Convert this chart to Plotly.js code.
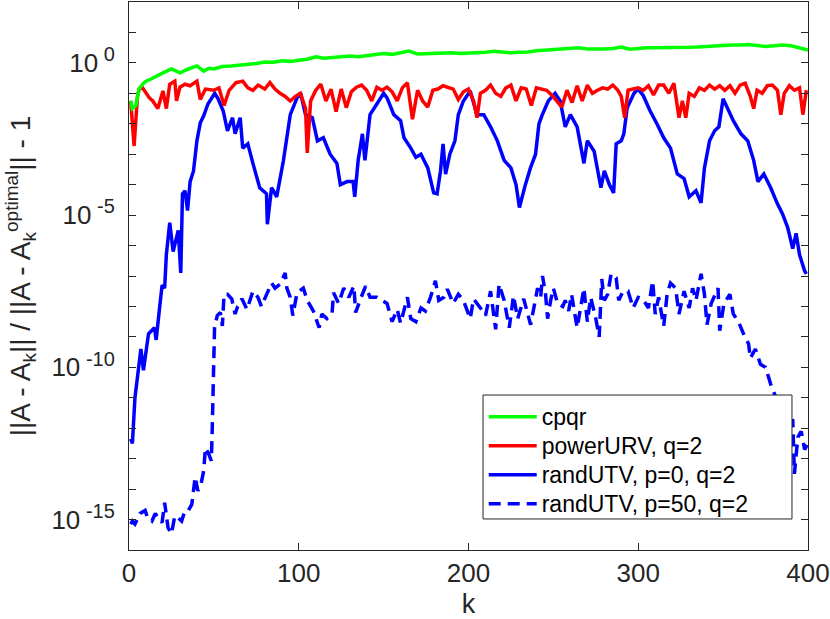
<!DOCTYPE html>
<html>
<head>
<meta charset="utf-8">
<script src="https://cdn.plot.ly/plotly-3.0.1.min.js"></script>
<style>
  html, body { margin: 0; padding: 0; background: #fff; }
  #chart { width: 830px; height: 619px; }
</style>
</head>
<body>
<div id="chart"></div>
<script>
// ---- Data (values are log10 of the plotted quantity) ----
const kCpqr = [1,2,4,6,8,10,13,16,20,25,28,30,35,40,44,47,50,55,60,65,70,75,80,85,90,95,100,105,110,115,120,125,130,135,140,145,150,155,160,165,170,175,180,185,190,195,200,205,210,215,220,225,230,235,240,245,250,255,260,265,270,275,280,285,290,295,300,305,310,315,320,325,330,335,340,345,350,355,360,365,370,375,380,385,390,395,400];
const logCpqr = [-1.25,-1.5,-1.4,-0.85,-0.7,-0.6,-0.53,-0.43,-0.33,-0.2,-0.27,-0.33,-0.2,-0.1,-0.27,-0.18,-0.2,-0.12,-0.1,-0.08,-0.04,-0.02,0.03,0.02,0.07,0.05,0.09,0.12,0.2,0.15,0.18,0.2,0.23,0.2,0.23,0.27,0.31,0.28,0.33,0.39,0.29,0.3,0.31,0.3,0.33,0.31,0.32,0.33,0.35,0.38,0.35,0.33,0.35,0.36,0.4,0.42,0.43,0.45,0.47,0.5,0.46,0.45,0.46,0.47,0.52,0.45,0.48,0.5,0.5,0.5,0.49,0.5,0.51,0.52,0.54,0.56,0.57,0.59,0.59,0.6,0.57,0.54,0.56,0.59,0.56,0.5,0.42];

const kPowerURV = [1,3,5,6,8,12,14,17,20,22,24,27,28,30,33,36,40,42,45,50,53,56,59,63,67,70,73,76,80,83,86,89,92,95,98,101,104,105,107,110,113,116,119,122,125,128,131,134,137,140,143,146,149,152,155,158,161,164,167,170,173,176,179,182,185,188,191,194,197,200,203,205,207,210,213,216,219,222,225,228,231,234,237,240,243,246,249,252,255,258,261,264,267,270,273,276,279,282,285,288,290,292,294,297,300,303,306,309,312,315,318,321,324,326,328,330,333,336,339,342,345,348,351,354,357,360,363,366,368,370,373,376,379,382,384,386,389,392,395,397,399];
const logPowerURV = [-1.25,-2.73,-1.1,-0.86,-0.82,-1.15,-1.25,-1.5,-0.92,-1.5,-0.7,-0.6,-1.25,-0.8,-0.7,-0.75,-0.6,-1.2,-0.86,-0.9,-0.82,-1.4,-0.9,-0.65,-0.6,-0.82,-0.9,-0.73,-0.86,-0.65,-0.86,-1.0,-1.1,-1.25,-1.1,-1.0,-1.5,-2.96,-1.25,-0.9,-0.7,-1.25,-0.86,-1.6,-0.86,-1.47,-0.95,-0.8,-0.73,-0.9,-1.25,-0.8,-0.9,-0.8,-0.95,-1.25,-0.82,-0.65,-1.85,-0.9,-1.25,-1.45,-0.9,-0.86,-0.75,-0.8,-0.86,-1.2,-0.95,-0.86,-1.25,-1.8,-1.0,-0.9,-0.73,-1.0,-1.1,-0.82,-0.73,-1.25,-0.82,-0.86,-1.4,-0.82,-0.86,-0.9,-1.05,-1.25,-1.45,-0.9,-1.3,-0.75,-1.25,-0.73,-1.0,-0.9,-0.82,-0.86,-0.73,-0.9,-1.1,-1.8,-0.9,-0.86,-0.82,-0.9,-0.75,-1.05,-0.73,-0.73,-1.0,-0.67,-1.8,-1.25,-1.8,-1.0,-1.1,-0.82,-0.9,-0.73,-0.86,-0.75,-0.9,-0.75,-1.0,-0.73,-0.67,-1.1,-1.5,-0.9,-1.0,-0.75,-0.73,-0.9,-1.7,-1.0,-0.75,-0.9,-0.82,-1.7,-0.9];

const kRandUTV0 = [1,2,3.5,5,7,8.5,10.5,11.5,15,16,18,19.5,21,22,24,26,29,30.5,31.5,33,34.5,36,38,40,42,44,46.5,49.5,50.5,52.5,55.5,58,61,62.5,65.5,67,70,73,77,81,81.5,84,87,91,95,99,101,104,108,111,114.5,118.5,122.5,124.5,128.5,132,133,135,137.5,139,142,146,150,152,156,160,162,166,169,172,176,179.5,181.5,183.5,185,186.5,189,192,194,197,201,205,209,213,217,221,225,228,230,233.5,236.5,239.5,241.5,243.5,247,251,254,257,260,264,268,270,274,278,280,283,285.5,287,290,291.5,293.5,297.5,300,303,307,311,315,319,323,327,330,334,337,339,342,345,347.5,350,352.5,356,360.5,364.5,368,370.5,374,378,382,385,388,391,393,395,398,399];
const logRandUTV0 = [-12.35,-12.5,-11.0,-10.2,-9.4,-10.1,-9.2,-8.9,-8.7,-9.1,-8.05,-7.3,-7.4,-6.3,-5.25,-6.2,-5.5,-6.9,-4.3,-4.2,-4.85,-3.9,-3.55,-2.56,-1.97,-1.74,-1.35,-1.08,-1.0,-1.18,-1.58,-2.23,-1.8,-2.33,-1.8,-2.8,-2.66,-3.3,-4.1,-4.3,-5.3,-4.1,-4.4,-3.2,-1.7,-1.15,-0.98,-1.7,-1.8,-2.56,-2.46,-3.0,-3.3,-4.0,-3.9,-3.9,-4.4,-3.2,-2.33,-3.2,-1.7,-1.35,-1.0,-1.15,-1.7,-1.9,-2.46,-2.8,-3.1,-3.0,-3.45,-4.27,-4.3,-3.55,-2.66,-3.65,-3.0,-2.56,-1.7,-1.25,-0.92,-1.7,-1.7,-2.1,-2.56,-3.2,-3.45,-4.0,-4.75,-4.0,-3.45,-3.0,-2.0,-1.7,-1.25,-1.0,-1.25,-2.1,-1.7,-2.1,-3.3,-2.56,-2.9,-4.1,-3.55,-4.0,-4.27,-2.66,-2.56,-2.33,-1.47,-1.0,-0.86,-1.08,-1.58,-2.0,-2.46,-2.8,-3.65,-3.8,-4.4,-4.2,-4.6,-3.45,-2.56,-2.23,-2.1,-1.18,-1.47,-1.9,-2.33,-2.56,-3.2,-3.9,-3.65,-4.1,-4.63,-4.96,-5.4,-6.1,-5.6,-6.3,-6.83,-6.93];

const kRandUTV50 = [1,2,3.5,6.5,9.5,11,13.5,15.5,17.5,19.5,21,23,25,27,29,31,33,35,37,39,40.5,42,44,45,47,48.5,49,49.6,50,50.4,52,53.8,55,56,58,60.5,62.5,64,66.5,69.5,73,76,78,82,84,86,89,92,93,95,96.5,99,102.7,105,108.6,112,113.6,116.6,119.6,120.5,123.5,126.5,129.5,132.5,133.5,136.4,139.4,142,146,149,152,155,158,160,164,166,169,172,174.6,177.6,180.5,182.5,185.5,187.5,191,194,197,201,203,207,210,213,216,218,221,224,226.5,229,232.5,236.6,238.5,240.7,242.5,243.6,245.4,246.6,248.4,250,252.5,255.5,257,259,260.7,263,264,266,268,270,272,275,277,278.5,280,282,284,287,288.5,291,294,297,300,302.6,306,308.5,310,312,315,317,319,322,324,327,330,332,334,337,339,340.5,343,347,348,350.5,354,356,359,363,365,366,369,372,375,378,381,384,387,389,391,392,394,396,398,400];
const logRandUTV50 = [-15.15,-15.05,-15.15,-14.8,-14.7,-14.95,-15.05,-14.8,-14.97,-15.1,-14.45,-15.27,-15.47,-14.88,-14.95,-15.05,-14.7,-14.7,-14.5,-13.6,-14.05,-13.95,-13.4,-12.65,-12.85,-13.07,-12.1,-10.45,-9.35,-8.7,-8.3,-8.2,-8.64,-7.6,-7.6,-7.75,-8.25,-8.0,-7.75,-8.1,-7.5,-7.7,-8.0,-7.5,-7.23,-7.4,-7.27,-6.9,-7.4,-7.7,-8.3,-7.55,-7.4,-7.8,-8.15,-8.7,-8.25,-8.4,-8.25,-7.55,-7.9,-7.4,-7.7,-7.33,-8.2,-7.75,-7.33,-7.7,-7.7,-7.8,-7.9,-8.5,-8.1,-8.55,-7.7,-8.4,-8.5,-8.05,-8.15,-7.7,-7.16,-7.8,-7.7,-7.43,-7.9,-7.6,-7.8,-8.4,-7.75,-8.05,-8.3,-7.5,-8.75,-7.27,-7.8,-8.7,-7.65,-8.4,-7.75,-8.6,-8.05,-7.4,-7.7,-7.0,-7.6,-8.4,-7.8,-7.4,-7.9,-8.0,-7.8,-8.15,-7.6,-8.3,-8.7,-8.05,-7.4,-8.5,-7.7,-8.4,-9.0,-7.1,-7.8,-7.6,-6.93,-7.06,-7.8,-7.5,-7.5,-8.05,-7.7,-7.75,-8.05,-7.16,-8.25,-7.7,-8.64,-7.6,-7.23,-7.4,-8.25,-7.5,-8.05,-7.4,-7.8,-6.93,-7.6,-8.6,-7.9,-7.4,-8.8,-7.9,-7.6,-8.25,-8.5,-9.03,-9.23,-9.7,-9.4,-9.9,-10.0,-10.55,-11.0,-11.4,-11.8,-12.2,-11.7,-13.5,-12.3,-12.1,-12.7,-12.5];

const seriesNames = ['cpqr', 'powerURV, q=2', 'randUTV, p=0, q=2', 'randUTV, p=50, q=2'];
const xTickVals = [0, 100, 200, 300, 400];
const yLabelledExponents = [0, -5, -10, -15];
const yMinorExponents = [-16,-14,-13,-12,-11,-9,-8,-7,-6,-4,-3,-2,-1,1,2];

// ---- build ----
const toVal = arr => arr.map(e => Math.pow(10, e));
const FONT = 'Liberation Sans, Arial, Helvetica, sans-serif';
const AX = '#262626';
const LW = 3.5;
const legendName = s => '<span style="font-size:23px">' + s + '</span>';

const traces = [
  { x: kRandUTV50, y: toVal(logRandUTV50), name: legendName(seriesNames[3]), mode: 'lines',
    line: { color: '#0000ff', width: LW, dash: '12px,7px' } },
  { x: kRandUTV0, y: toVal(logRandUTV0), name: legendName(seriesNames[2]), mode: 'lines',
    line: { color: '#0000ff', width: LW } },
  { x: kPowerURV, y: toVal(logPowerURV), name: legendName(seriesNames[1]), mode: 'lines',
    line: { color: '#ff0000', width: LW } },
  { x: kCpqr, y: toVal(logCpqr), name: legendName(seriesNames[0]), mode: 'lines',
    line: { color: '#00ff00', width: LW } }
];

const yTickVals = yLabelledExponents.map(e => Math.pow(10, e));
const yTickText = yLabelledExponents.map(e => '10<sup><span style="font-size:20px"> ' + e + '</span></sup>');

// legend box (paper coords) like MATLAB's opaque legend
const legendBox = { x0: 0.5214, x1: 0.9764, y0: 0.0566, y1: 0.2828 };

const layout = {
  width: 830, height: 619,
  margin: { l: 129, r: 22, t: 2, b: 69 },
  paper_bgcolor: '#ffffff', plot_bgcolor: '#ffffff',
  font: { family: FONT, size: 26, color: AX },
  showlegend: true,
  legend: {
    x: legendBox.x0 + 0.001, y: legendBox.y1 - 0.004, xanchor: 'left', yanchor: 'top',
    bgcolor: 'rgba(0,0,0,0)', borderwidth: 0,
    traceorder: 'reversed',
    font: { family: FONT, size: 20, color: '#000000' },
    itemwidth: 48
  },
  shapes: [{
    type: 'rect', xref: 'paper', yref: 'paper', layer: 'above',
    x0: legendBox.x0, x1: legendBox.x1, y0: legendBox.y0, y1: legendBox.y1,
    fillcolor: '#ffffff', line: { color: AX, width: 1 }
  }],
  xaxis: {
    range: [0, 400], tickvals: xTickVals, ticktext: xTickVals.map(String),
    ticks: 'inside', ticklen: 7, tickcolor: AX, tickwidth: 1,
    showline: true, linecolor: AX, linewidth: 1, mirror: 'allticks',
    showgrid: false, zeroline: false,
    tickfont: { family: FONT, size: 26, color: AX },
    title: { text: 'k', font: { family: FONT, size: 27, color: AX }, standoff: 6 }
  },
  yaxis: {
    type: 'log', range: [-16, 2],
    tickvals: yTickVals, ticktext: yTickText,
    ticks: 'inside', ticklen: 7, tickcolor: AX, tickwidth: 1,
    minor: { tickmode: 'array', tickvals: toVal(yMinorExponents), ticks: 'inside', ticklen: 7, tickcolor: AX, tickwidth: 1, showgrid: false },
    showline: true, linecolor: AX, linewidth: 1, mirror: 'allticks',
    showgrid: false, zeroline: false,
    ticklabelstandoff: 8,
    tickfont: { family: FONT, size: 26, color: AX },
    title: { text: '||A - A<sub><span style="font-size:19px">k</span></sub>|| / ||A - A<sub><span style="font-size:19px">k</span></sub><sup><span style="font-size:19px">optimal</span></sup>|| - 1',
             font: { family: FONT, size: 28, color: AX }, standoff: 12 }
  }
};

Plotly.newPlot('chart', traces, layout, { displayModeBar: false, staticPlot: true });
</script>
</body>
</html>
